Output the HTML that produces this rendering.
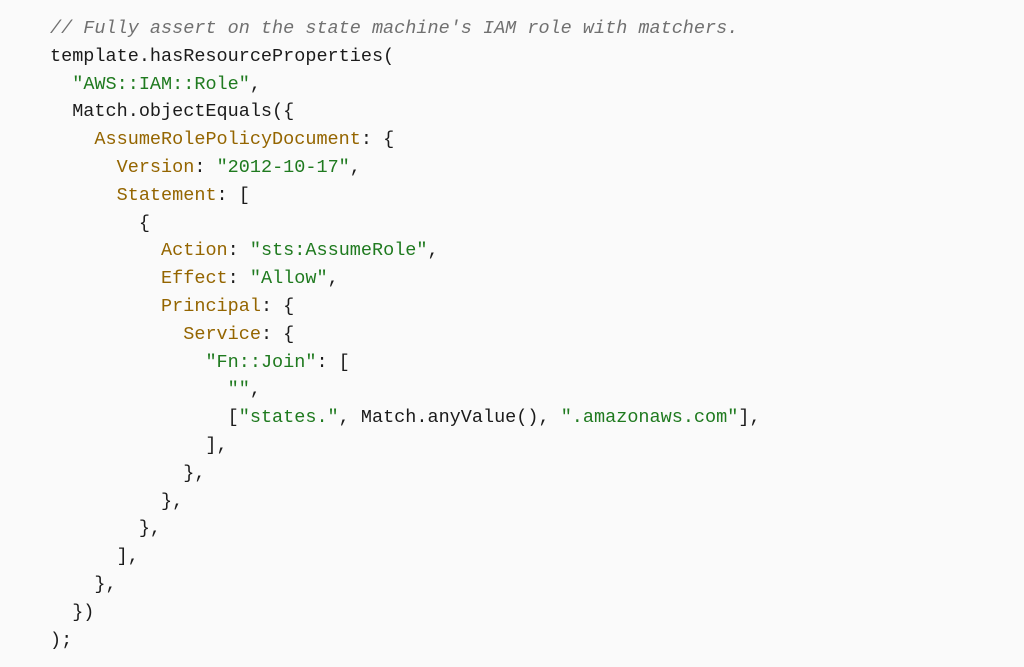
<!DOCTYPE html>
<html><head><meta charset="utf-8"><style>
html,body{margin:0;padding:0;background:#fafafa;width:1024px;height:667px;overflow:hidden}
pre{margin:0;position:absolute;left:50px;top:15px;font-family:"Liberation Mono",monospace;font-size:18.5px;line-height:27.8px;color:#1b1b1b;letter-spacing:0}
.c{color:#707070;font-style:italic}
.s{color:#1f7a1f}
.k{color:#946500}
</style></head><body>
<pre><span class="c">// Fully assert on the state machine's IAM role with matchers.</span>
template.hasResourceProperties(
  <span class="s">"AWS::IAM::Role"</span>,
  Match.objectEquals({
    <span class="k">AssumeRolePolicyDocument</span>: {
      <span class="k">Version</span>: <span class="s">"2012-10-17"</span>,
      <span class="k">Statement</span>: [
        {
          <span class="k">Action</span>: <span class="s">"sts:AssumeRole"</span>,
          <span class="k">Effect</span>: <span class="s">"Allow"</span>,
          <span class="k">Principal</span>: {
            <span class="k">Service</span>: {
              <span class="s">"Fn::Join"</span>: [
                <span class="s">""</span>,
                [<span class="s">"states."</span>, Match.anyValue(), <span class="s">".amazonaws.com"</span>],
              ],
            },
          },
        },
      ],
    },
  })
);</pre>
</body></html>
